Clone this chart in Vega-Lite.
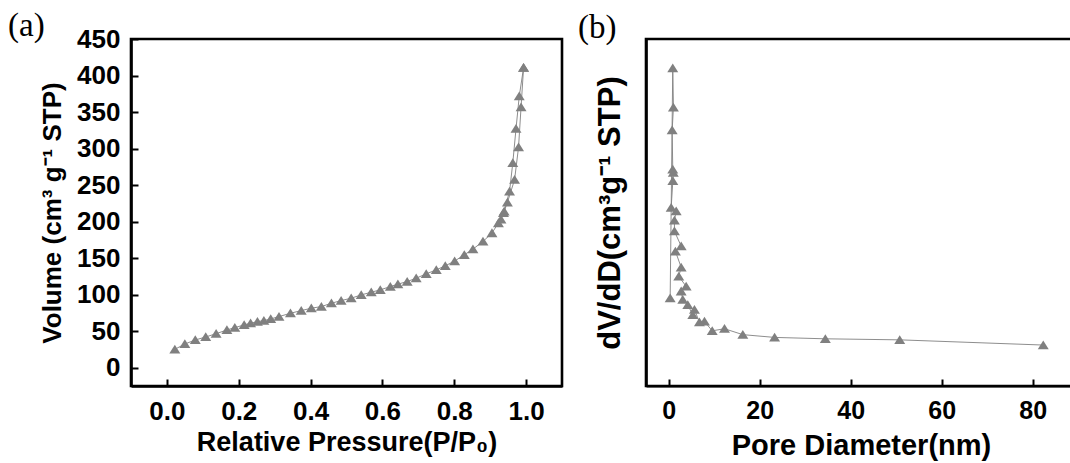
{
  "$schema": "https://vega.github.io/schema/vega-lite/v6.json",
  "padding": {"left": 6, "top": 8, "right": 0, "bottom": 0},
  "background": "white",
  "spacing": 84,
  "bounds": "flush",
  "datasets": {
    "iso": [
      {"P": 0.022, "V": 25.2, "branch": "ads"},
      {"P": 0.050, "V": 32.5, "branch": "ads"},
      {"P": 0.079, "V": 38.0, "branch": "ads"},
      {"P": 0.108, "V": 42.1, "branch": "ads"},
      {"P": 0.137, "V": 46.6, "branch": "ads"},
      {"P": 0.167, "V": 51.7, "branch": "ads"},
      {"P": 0.189, "V": 54.9, "branch": "ads"},
      {"P": 0.215, "V": 58.6, "branch": "ads"},
      {"P": 0.233, "V": 60.9, "branch": "ads"},
      {"P": 0.252, "V": 63.1, "branch": "ads"},
      {"P": 0.270, "V": 64.5, "branch": "ads"},
      {"P": 0.289, "V": 66.8, "branch": "ads"},
      {"P": 0.312, "V": 70.0, "branch": "ads"},
      {"P": 0.344, "V": 74.6, "branch": "ads"},
      {"P": 0.374, "V": 78.2, "branch": "ads"},
      {"P": 0.402, "V": 81.5, "branch": "ads"},
      {"P": 0.430, "V": 83.7, "branch": "ads"},
      {"P": 0.458, "V": 88.3, "branch": "ads"},
      {"P": 0.485, "V": 91.9, "branch": "ads"},
      {"P": 0.513, "V": 95.2, "branch": "ads"},
      {"P": 0.541, "V": 99.7, "branch": "ads"},
      {"P": 0.569, "V": 103.4, "branch": "ads"},
      {"P": 0.594, "V": 106.6, "branch": "ads"},
      {"P": 0.622, "V": 111.1, "branch": "ads"},
      {"P": 0.643, "V": 114.4, "branch": "ads"},
      {"P": 0.669, "V": 118.0, "branch": "ads"},
      {"P": 0.694, "V": 122.6, "branch": "ads"},
      {"P": 0.722, "V": 128.5, "branch": "ads"},
      {"P": 0.750, "V": 134.0, "branch": "ads"},
      {"P": 0.775, "V": 139.5, "branch": "ads"},
      {"P": 0.801, "V": 146.0, "branch": "ads"},
      {"P": 0.828, "V": 154.6, "branch": "ads"},
      {"P": 0.852, "V": 162.4, "branch": "ads"},
      {"P": 0.880, "V": 172.8, "branch": "ads"},
      {"P": 0.905, "V": 184.4, "branch": "ads"},
      {"P": 0.923, "V": 198.1, "branch": "ads"},
      {"P": 0.939, "V": 214.0, "branch": "ads"},
      {"P": 0.948, "V": 226.3, "branch": "ads"},
      {"P": 0.968, "V": 257.5, "branch": "ads"},
      {"P": 0.979, "V": 301.8, "branch": "ads"},
      {"P": 0.986, "V": 356.7, "branch": "ads"},
      {"P": 0.993, "V": 410.7, "branch": "ads"},
      {"P": 0.993, "V": 410.7, "branch": "des"},
      {"P": 0.981, "V": 371.7, "branch": "des"},
      {"P": 0.972, "V": 327.4, "branch": "des"},
      {"P": 0.963, "V": 280.4, "branch": "des"},
      {"P": 0.954, "V": 241.4, "branch": "des"},
      {"P": 0.937, "V": 211.8, "branch": "des"},
      {"P": 0.930, "V": 203.0, "branch": "des"}
    ],
    "pore": [
      {"i": 1, "D": 0.31, "dV": 25.3},
      {"i": 2, "D": 0.88, "dV": 91.6},
      {"i": 3, "D": 1.03, "dV": 80.3},
      {"i": 4, "D": 0.75, "dV": 73.7},
      {"i": 5, "D": 0.88, "dV": 62.4},
      {"i": 6, "D": 1.00, "dV": 61.5},
      {"i": 7, "D": 0.90, "dV": 59.1},
      {"i": 8, "D": 0.53, "dV": 51.4},
      {"i": 9, "D": 1.63, "dV": 50.4},
      {"i": 10, "D": 1.25, "dV": 47.7},
      {"i": 11, "D": 1.25, "dV": 44.6},
      {"i": 12, "D": 2.73, "dV": 40.3},
      {"i": 13, "D": 1.47, "dV": 38.8},
      {"i": 14, "D": 2.73, "dV": 34.2},
      {"i": 15, "D": 2.20, "dV": 31.6},
      {"i": 16, "D": 3.83, "dV": 28.7},
      {"i": 17, "D": 2.73, "dV": 27.3},
      {"i": 18, "D": 3.08, "dV": 24.9},
      {"i": 19, "D": 4.18, "dV": 23.4},
      {"i": 20, "D": 5.28, "dV": 20.5},
      {"i": 21, "D": 5.65, "dV": 22.0},
      {"i": 22, "D": 6.75, "dV": 18.4},
      {"i": 23, "D": 7.85, "dV": 18.6},
      {"i": 24, "D": 9.55, "dV": 15.9},
      {"i": 25, "D": 12.25, "dV": 16.5},
      {"i": 26, "D": 16.28, "dV": 14.8},
      {"i": 27, "D": 23.26, "dV": 14.0},
      {"i": 28, "D": 34.41, "dV": 13.6},
      {"i": 29, "D": 50.76, "dV": 13.3},
      {"i": 30, "D": 82.3, "dV": 11.8}
    ]
  },
  "hconcat": [
    {
      "width": 431,
      "height": 347,
      "title": {"text": "(a)", "anchor": "start", "frame": "group", "dx": -123, "offset": -17, "baseline": "top", "font": "Liberation Serif", "fontSize": 33, "fontWeight": "normal", "color": "black"},
      "data": {"name": "iso"},
      "encoding": {
        "x": {"field": "P", "type": "quantitative", "scale": {"domain": [-0.1, 1.1], "nice": false, "zero": false},
          "axis": {"title": "Relative Pressure(P/P₀)", "values": [0, 0.2, 0.4, 0.6, 0.8, 1.0], "format": ".1f", "tickSize": -7, "labelPadding": 19, "labelFontSize": 26, "titleFontSize": 27, "titlePadding": 5, "labelOverlap": false}},
        "y": {"field": "V", "type": "quantitative", "scale": {"domain": [-25, 450], "nice": false, "zero": false},
          "axis": {"title": "Volume (cm³ g⁻¹ STP)", "values": [0, 50, 100, 150, 200, 250, 300, 350, 400, 450], "tickSize": -7, "labelPadding": 18, "labelFontSize": 26, "titleFontSize": 26, "titlePadding": 11, "labelOverlap": false}}
      },
      "layer": [
        {
          "mark": {"type": "line", "color": "#808080", "strokeWidth": 0.9},
          "encoding": {"detail": {"field": "branch"}}
        },
        {
          "mark": {"type": "point", "shape": "M-1,0.75L0,-0.85L1,0.75Z", "filled": true, "color": "#808080", "opacity": 1, "size": 120}
        }
      ]
    },
    {
      "width": 430,
      "height": 347,
      "title": {"text": "(b)", "anchor": "start", "frame": "group", "dx": -68, "offset": -6, "baseline": "top", "font": "Liberation Serif", "fontSize": 33, "fontWeight": "normal", "color": "black"},
      "data": {"name": "pore"},
      "encoding": {
        "x": {"field": "D", "type": "quantitative", "scale": {"domain": [-5, 89.5], "nice": false, "zero": false},
          "axis": {"title": "Pore Diameter(nm)", "values": [0, 20, 40, 60, 80], "tickSize": -7, "labelPadding": 19, "labelFontSize": 25, "titleFontSize": 29, "titlePadding": 8, "domainWidth": 2, "labelOverlap": false}},
        "y": {"field": "dV", "type": "quantitative", "scale": {"domain": [0, 100], "nice": false, "zero": false},
          "axis": {"title": "dV/dD(cm³g⁻¹ STP)", "labels": false, "ticks": false, "titleFontSize": 31, "titlePadding": 20}}
      },
      "layer": [
        {
          "mark": {"type": "line", "color": "#808080", "strokeWidth": 0.9},
          "encoding": {"order": {"field": "i"}}
        },
        {
          "mark": {"type": "point", "shape": "M-1,0.75L0,-0.85L1,0.75Z", "filled": true, "color": "#808080", "opacity": 1, "size": 120}
        }
      ]
    }
  ],
  "config": {
    "font": "Liberation Sans",
    "view": {"stroke": "black", "strokeWidth": 2.6},
    "axis": {
      "grid": false,
      "domainColor": "black",
      "domainWidth": 2.6,
      "tickColor": "black",
      "tickWidth": 2,
      "labelColor": "black",
      "labelFontWeight": "bold",
      "labelFont": "Liberation Sans",
      "titleColor": "black",
      "titleFontWeight": "bold",
      "titleFont": "Liberation Sans",
      "labelFlush": false
    }
  }
}
